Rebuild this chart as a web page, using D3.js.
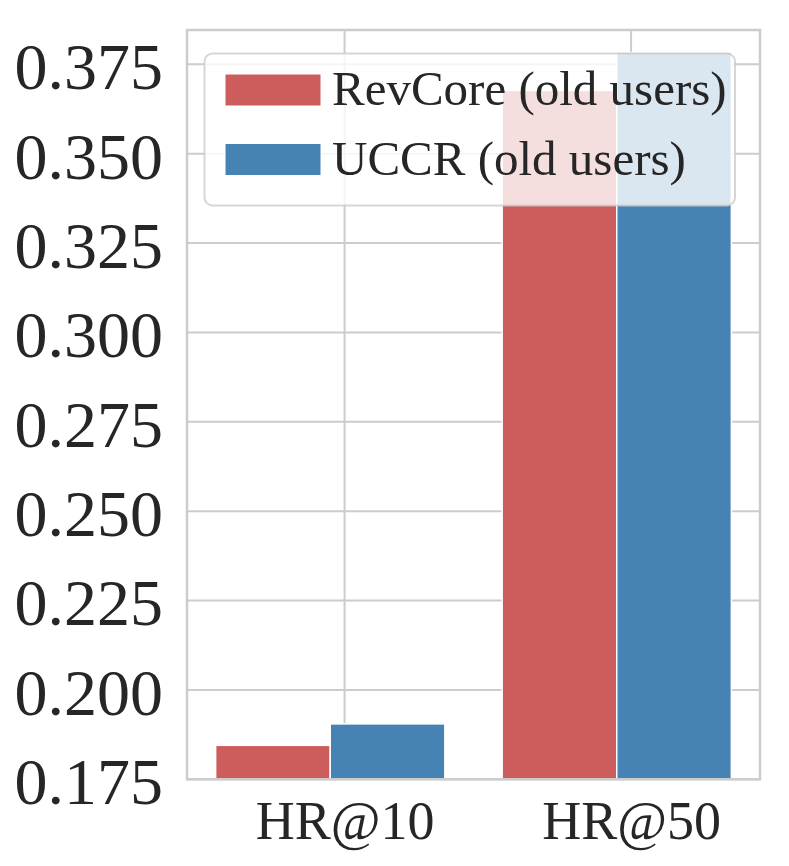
<!DOCTYPE html>
<html>
<head>
<meta charset="utf-8">
<script src="https://cdn.jsdelivr.net/npm/d3@7"></script>
<style>
  html, body { margin: 0; padding: 0; background: #fff; }
  svg { display: block; font-family: "Liberation Serif", "Times New Roman", serif; }
</style>
</head>
<body>
<svg id="chart" width="789" height="866"></svg>
<script>
const categories = ['HR@10', 'HR@50'];
const seriesNames = ['RevCore (old users)', 'UCCR (old users)'];
const revcoreValues = [0.1845, 0.3677];
const uccrValues = [0.1905, 0.3783];
const yTicks = [0.175, 0.200, 0.225, 0.250, 0.275, 0.300, 0.325, 0.350, 0.375];

const colors = ['#cd5c5c', '#4682b4'];
const gridColor = '#cccccc';
const textColor = '#262626';

const plotLeft = 187;
const plotRight = 760;
const plotTop = 30;
const plotBottom = 779.3;

const svg = d3.select('#chart');

const x = d3.scaleBand()
  .domain(categories)
  .range([plotLeft, plotRight])
  .paddingInner(0.2)
  .paddingOuter(0.1);

const xSub = d3.scaleBand()
  .domain(seriesNames)
  .range([0, x.bandwidth()]);

// tick labels sit a little right of the group centre, as in the original
const tickShift = x.step() * 0.05;
const tickX = (c) => x(c) + x.bandwidth() / 2 + tickShift;

const y = d3.scaleLinear()
  .domain([0.175, 0.3846])
  .range([plotBottom, plotTop]);

// grid
const grid = svg.append('g');
grid.selectAll('.hgrid')
  .data(yTicks)
  .enter()
  .append('line')
  .attr('x1', plotLeft)
  .attr('x2', plotRight)
  .attr('y1', (d) => y(d))
  .attr('y2', (d) => y(d))
  .style('stroke', gridColor)
  .style('stroke-width', 2);
grid.selectAll('.vgrid')
  .data(categories)
  .enter()
  .append('line')
  .attr('x1', tickX)
  .attr('x2', tickX)
  .attr('y1', plotTop)
  .attr('y2', plotBottom)
  .style('stroke', gridColor)
  .style('stroke-width', 2);

// bars
const rows = categories.map((c, i) => ({
  category: c,
  values: [
    { name: seriesNames[0], value: revcoreValues[i], color: colors[0] },
    { name: seriesNames[1], value: uccrValues[i], color: colors[1] },
  ],
}));

svg.append('g')
  .selectAll('g')
  .data(rows)
  .enter()
  .append('g')
  .attr('transform', (d) => `translate(${x(d.category)},0)`)
  .selectAll('rect')
  .data((d) => d.values)
  .enter()
  .append('rect')
  .attr('x', (d) => xSub(d.name))
  .attr('width', xSub.bandwidth())
  .attr('y', (d) => y(d.value))
  .attr('height', (d) => y(0.175) - y(d.value))
  .style('fill', (d) => d.color)
  .style('stroke', '#ffffff')
  .style('stroke-width', 1.5);

// frame
svg.append('rect')
  .attr('x', plotLeft)
  .attr('y', plotTop)
  .attr('width', plotRight - plotLeft)
  .attr('height', plotBottom - plotTop)
  .style('fill', 'none')
  .style('stroke', gridColor)
  .style('stroke-width', 2.5);

// y axis
const yAxis = svg.append('g')
  .attr('transform', `translate(${plotLeft},0)`)
  .call(d3.axisLeft(y).tickValues(yTicks).tickFormat(d3.format('.3f')).tickSize(0).tickPadding(24));
yAxis.select('.domain').remove();
yAxis.selectAll('text')
  .attr('dy', '0.37em')
  .style('font-size', '66px')
  .style('font-family', '"Liberation Serif", serif')
  .style('fill', textColor);

// x axis
const xAxis = svg.append('g')
  .attr('transform', `translate(0,${plotBottom})`)
  .call(d3.axisBottom(d3.scaleOrdinal().domain(categories).range(categories.map(tickX))).tickSize(0).tickPadding(0));
xAxis.select('.domain').remove();
xAxis.selectAll('text')
  .attr('y', 60)
  .attr('dy', 0)
  .style('font-size', '54px')
  .style('font-family', '"Liberation Serif", serif')
  .style('fill', textColor);

// legend
const legend = svg.append('g');
legend.append('rect')
  .attr('x', 204.5)
  .attr('y', 53.5)
  .attr('width', 530.5)
  .attr('height', 152)
  .attr('rx', 8)
  .style('fill', 'rgba(255,255,255,0.8)')
  .style('stroke', 'rgba(204,204,204,0.8)')
  .style('stroke-width', 2);

const legendItems = legend.selectAll('.item')
  .data(seriesNames)
  .enter()
  .append('g')
  .attr('transform', (d, i) => `translate(225,${74 + i * 69.5})`);
legendItems.append('rect')
  .attr('width', 96)
  .attr('height', 32)
  .style('fill', (d, i) => colors[i])
  .style('stroke', '#ffffff')
  .style('stroke-width', 1);
legendItems.append('text')
  .attr('x', 107)
  .attr('y', 31)
  .text((d) => d)
  .style('font-size', '49px')
  .style('fill', textColor);
</script>
</body>
</html>
